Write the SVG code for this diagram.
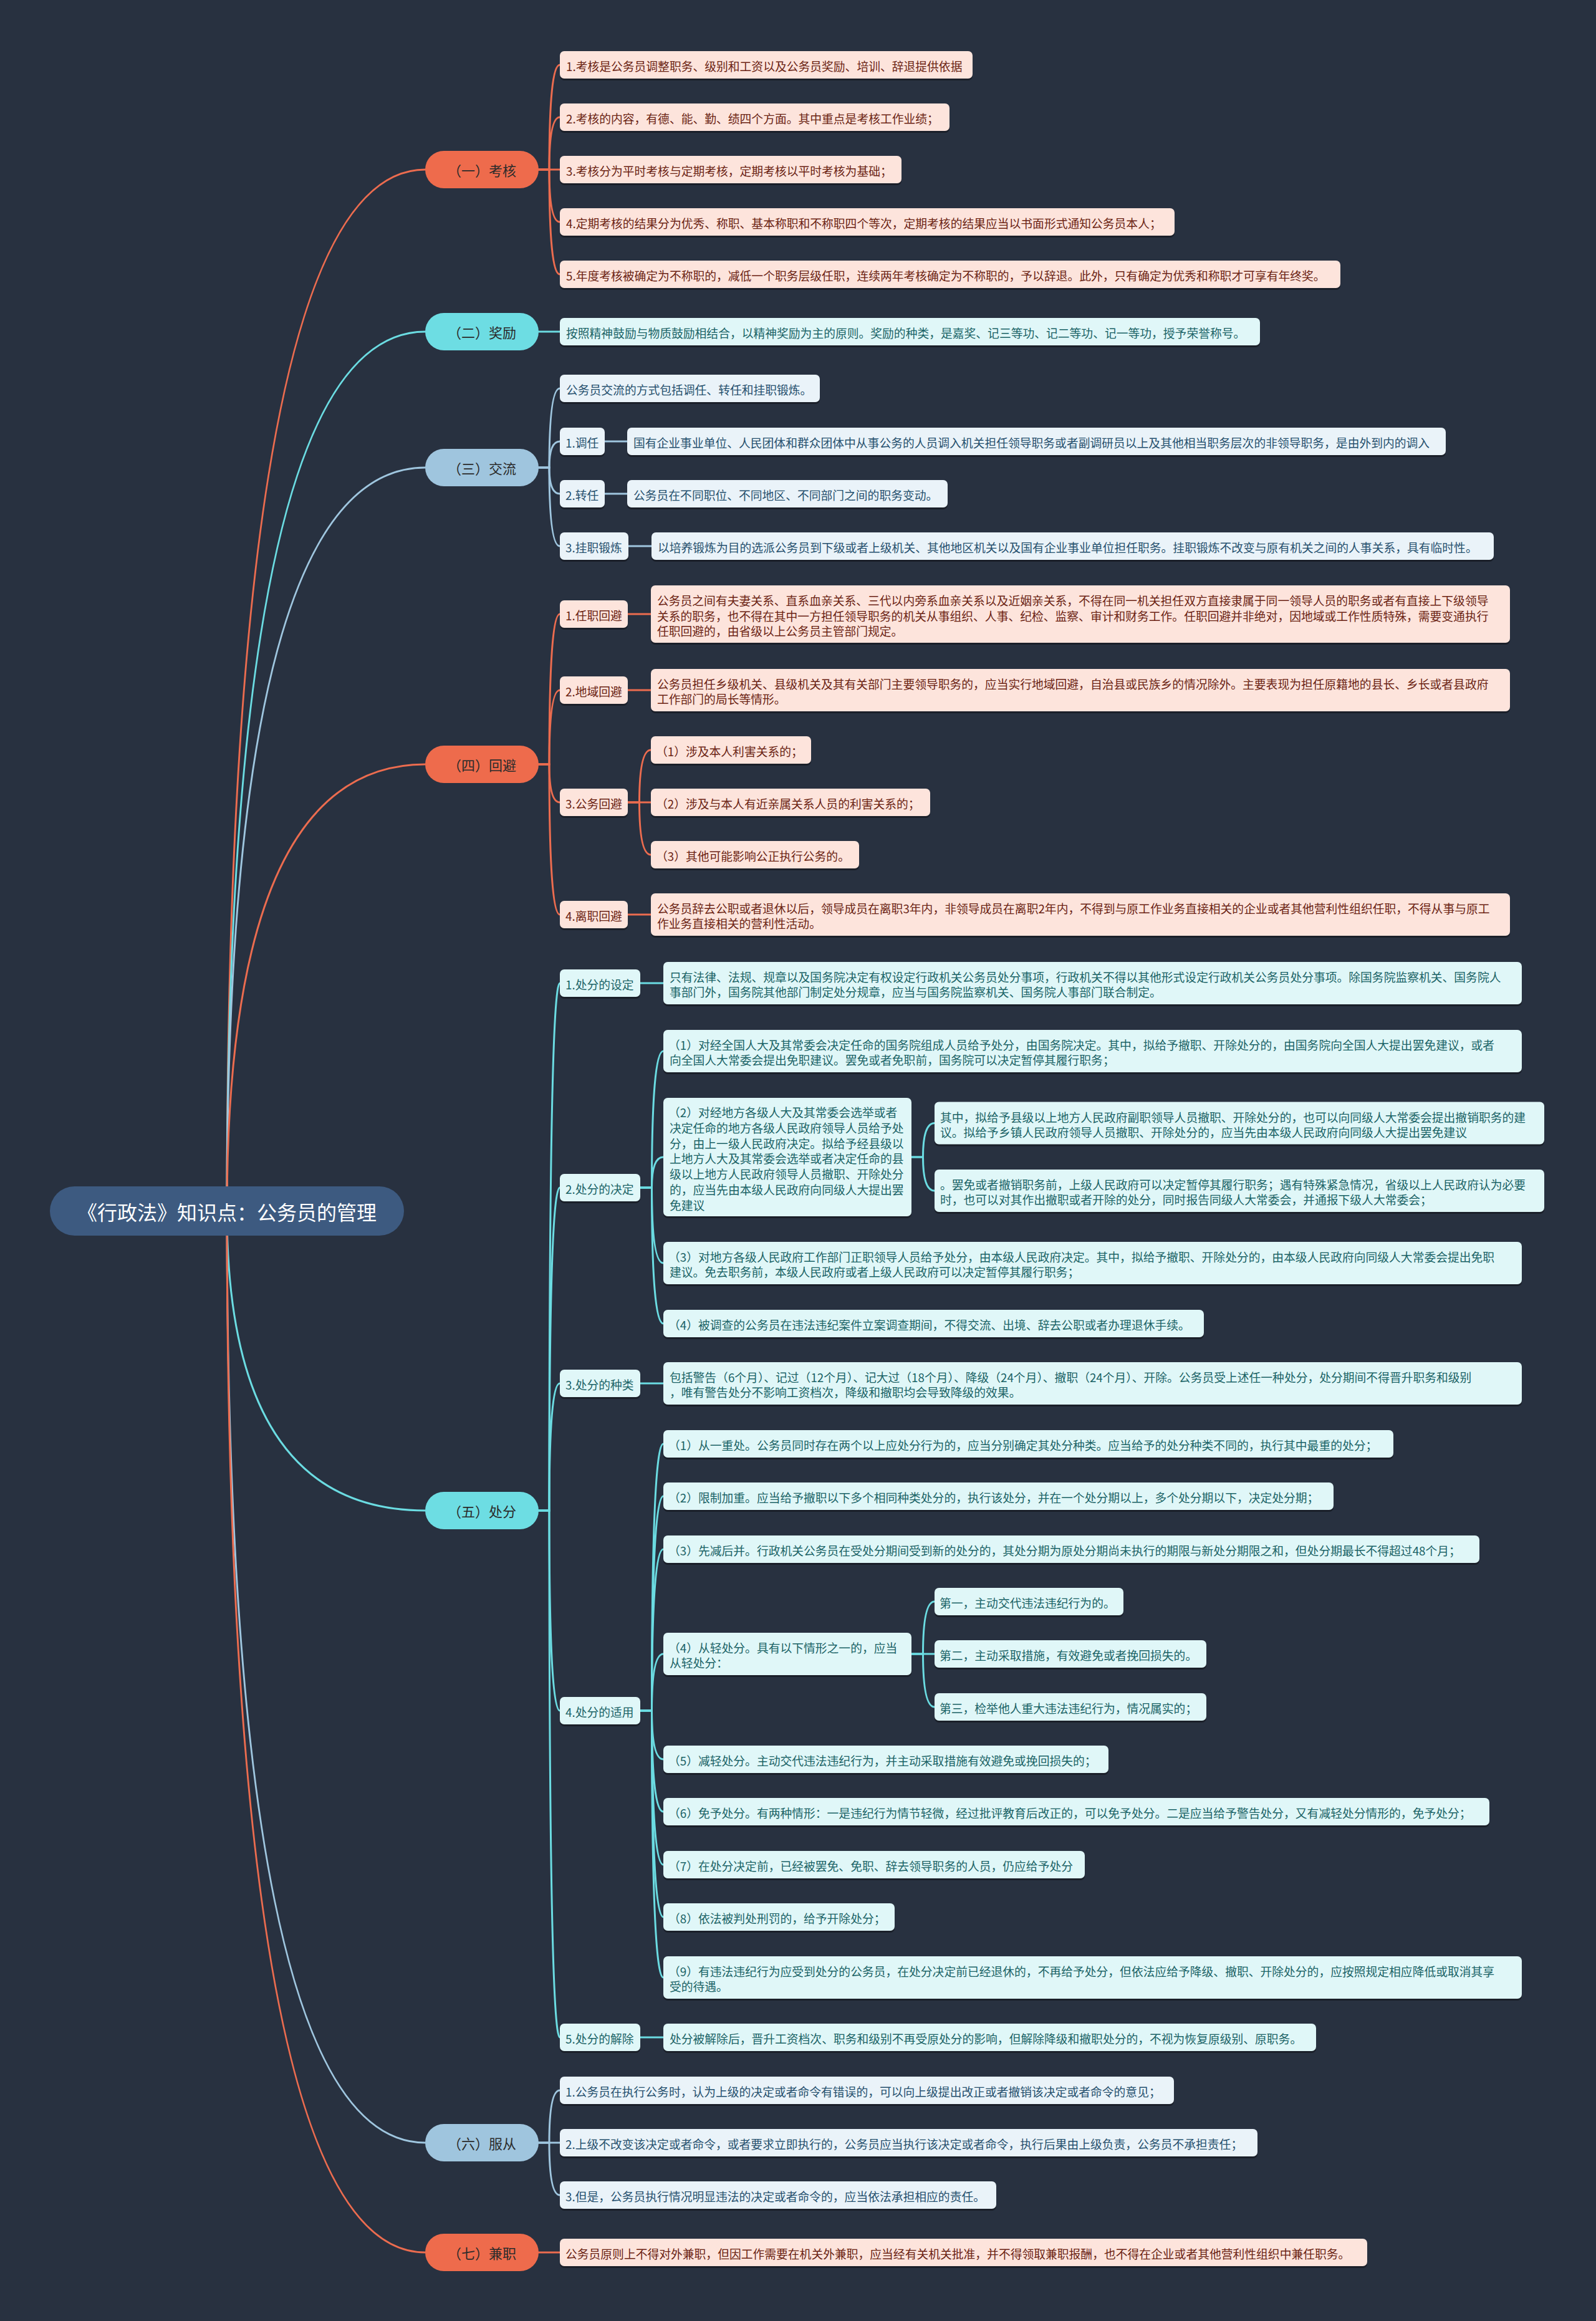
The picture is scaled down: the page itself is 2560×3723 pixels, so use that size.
<svg xmlns="http://www.w3.org/2000/svg" width="2560" height="3723" viewBox="0 0 2560 3723">
<defs>
<style>
.bg{fill:#283140}
.sh{fill:#1a1f29}
.fo{fill:#fde4dc}
.fc{fill:#e0f7f8}
.fb{fill:#eaf3f9}
.t{font-family:"Noto Sans CJK SC","Liberation Sans",sans-serif;font-size:18.8px;dominant-baseline:central}
.to{fill:#6b2313}
.tc{fill:#1a6366}
.tb{fill:#26506e}
.ln{fill:none;stroke-width:3;stroke-linecap:round}
.lo{stroke:#ec6c4f}
.lc{stroke:#6bdce2}
.lb{stroke:#9fc6df}
.po{fill:#ee6b4c}
.pc{fill:#6ddde3}
.pb{fill:#9fc5de}
.pt{font-family:"Noto Sans CJK SC","Liberation Sans",sans-serif;font-size:22px;fill:#2b2b2b;text-anchor:middle;dominant-baseline:central}
.rt{font-family:"Noto Sans CJK SC","Liberation Sans",sans-serif;font-size:32px;fill:#ffffff;text-anchor:middle;dominant-baseline:central}
</style>
</defs>
<rect class="bg" x="0" y="0" width="2560" height="3723"/>

<g id="connectors">
<path class="ln lo" d="M364,1942 Q364,272 682,272"/>
<path class="ln lc" d="M364,1942 Q364,532 682,532"/>
<path class="ln lb" d="M364,1942 Q364,750 682,750"/>
<path class="ln lo" d="M364,1942 Q364,1226 682,1226"/>
<path class="ln lc" d="M364,1942 Q364,2423 682,2423"/>
<path class="ln lb" d="M364,1942 Q364,3437 682,3437"/>
<path class="ln lo" d="M364,1942 Q364,3613 682,3613"/>

<path class="ln lo" d="M864,272 H881 Q881,104 898,104"/>
<path class="ln lo" d="M864,272 H881 Q881,188 898,188"/>
<path class="ln lo" d="M864,272 H898"/>
<path class="ln lo" d="M864,272 H881 Q881,356 898,356"/>
<path class="ln lo" d="M864,272 H881 Q881,440 898,440"/>

<path class="ln lc" d="M864,532 H898"/>

<path class="ln lb" d="M864,750 H881 Q881,623 898,623"/>
<path class="ln lb" d="M864,750 H881 Q881,708 898,708"/>
<path class="ln lb" d="M864,750 H881 Q881,792 898,792"/>
<path class="ln lb" d="M864,750 H881 Q881,876 898,876"/>
<path class="ln lb" d="M970,708 H1006"/>
<path class="ln lb" d="M970,792 H1006"/>
<path class="ln lb" d="M1008,876 H1045"/>

<path class="ln lo" d="M864,1226 H881 Q881,985 898,985"/>
<path class="ln lo" d="M864,1226 H881 Q881,1107 898,1107"/>
<path class="ln lo" d="M864,1226 H881 Q881,1287 898,1287"/>
<path class="ln lo" d="M864,1226 H881 Q881,1467 898,1467"/>
<path class="ln lo" d="M1007,985 H1044"/>
<path class="ln lo" d="M1007,1107 H1044"/>
<path class="ln lo" d="M1007,1287 H1025.5 Q1025.5,1203 1044,1203"/>
<path class="ln lo" d="M1007,1287 H1044"/>
<path class="ln lo" d="M1007,1287 H1025.5 Q1025.5,1371 1044,1371"/>
<path class="ln lo" d="M1007,1467 H1044"/>

<path class="ln lc" d="M864,2423 H881 Q881,1577 898,1577"/>
<path class="ln lc" d="M864,2423 H881 Q881,1905 898,1905"/>
<path class="ln lc" d="M864,2423 H881 Q881,2219 898,2219"/>
<path class="ln lc" d="M864,2423 H881 Q881,2744 898,2744"/>
<path class="ln lc" d="M864,2423 H881 Q881,3268 898,3268"/>
<path class="ln lc" d="M1027,1577 H1064"/>
<path class="ln lc" d="M1027,1905 H1045.5 Q1045.5,1686 1064,1686"/>
<path class="ln lc" d="M1027,1905 H1045.5 Q1045.5,1856 1064,1856"/>
<path class="ln lc" d="M1027,1905 H1045.5 Q1045.5,2026 1064,2026"/>
<path class="ln lc" d="M1027,1905 H1045.5 Q1045.5,2123 1064,2123"/>
<path class="ln lc" d="M1462,1856 H1480.5 Q1480.5,1801.5 1499,1801.5"/>
<path class="ln lc" d="M1462,1856 H1480.5 Q1480.5,1910 1499,1910"/>
<path class="ln lc" d="M1027,2219 H1064"/>
<path class="ln lc" d="M1027,2744 H1045.5 Q1045.5,2316 1064,2316"/>
<path class="ln lc" d="M1027,2744 H1045.5 Q1045.5,2400 1064,2400"/>
<path class="ln lc" d="M1027,2744 H1045.5 Q1045.5,2485 1064,2485"/>
<path class="ln lc" d="M1027,2744 H1045.5 Q1045.5,2653 1064,2653"/>
<path class="ln lc" d="M1027,2744 H1045.5 Q1045.5,2822 1064,2822"/>
<path class="ln lc" d="M1027,2744 H1045.5 Q1045.5,2906 1064,2906"/>
<path class="ln lc" d="M1027,2744 H1045.5 Q1045.5,2991 1064,2991"/>
<path class="ln lc" d="M1027,2744 H1045.5 Q1045.5,3075 1064,3075"/>
<path class="ln lc" d="M1027,2744 H1045.5 Q1045.5,3172 1064,3172"/>
<path class="ln lc" d="M1462,2653 H1480.5 Q1480.5,2569 1499,2569"/>
<path class="ln lc" d="M1462,2653 H1499"/>
<path class="ln lc" d="M1462,2653 H1480.5 Q1480.5,2738 1499,2738"/>
<path class="ln lc" d="M1027,3268 H1064"/>

<path class="ln lb" d="M864,3437 H881 Q881,3353 898,3353"/>
<path class="ln lb" d="M864,3437 H898"/>
<path class="ln lb" d="M864,3437 H881 Q881,3521 898,3521"/>

<path class="ln lo" d="M864,3613 H898"/>
</g>

<g id="root">
<rect x="80" y="1903" width="568" height="79" rx="39.5" fill="#3d5a80"/>
<text class="rt" x="364" y="1943">《行政法》知识点：公务员的管理</text>
</g>

<g id="b1">
<rect class="po" x="682" y="242" width="182" height="60" rx="30"/>
<text class="pt" x="773" y="272">（一）考核</text>
</g>
<g id="b2">
<rect class="pc" x="682" y="502" width="182" height="60" rx="30"/>
<text class="pt" x="773" y="532">（二）奖励</text>
</g>
<g id="b3">
<rect class="pb" x="682" y="720" width="182" height="60" rx="30"/>
<text class="pt" x="773" y="750">（三）交流</text>
</g>
<g id="b4">
<rect class="po" x="682" y="1196" width="182" height="60" rx="30"/>
<text class="pt" x="773" y="1226">（四）回避</text>
</g>
<g id="b5">
<rect class="pc" x="682" y="2393" width="182" height="60" rx="30"/>
<text class="pt" x="773" y="2423">（五）处分</text>
</g>
<g id="b6">
<rect class="pb" x="682" y="3407" width="182" height="60" rx="30"/>
<text class="pt" x="773" y="3437">（六）服从</text>
</g>
<g id="b7">
<rect class="po" x="682" y="3583" width="182" height="60" rx="30"/>
<text class="pt" x="773" y="3613">（七）兼职</text>
</g>

<!-- 考核 -->
<g id="k1"><rect class="sh" x="898" y="85" width="662" height="44" rx="7"/><rect class="fo" x="898" y="82" width="662" height="44" rx="7"/><text class="t to" x="908" y="105">1.考核是公务员调整职务、级别和工资以及公务员奖励、培训、辞退提供依据</text></g>
<g id="k2"><rect class="sh" x="898" y="169" width="625" height="44" rx="7"/><rect class="fo" x="898" y="166" width="625" height="44" rx="7"/><text class="t to" x="908" y="189">2.考核的内容，有德、能、勤、绩四个方面。其中重点是考核工作业绩；</text></g>
<g id="k3"><rect class="sh" x="898" y="253" width="548" height="44" rx="7"/><rect class="fo" x="898" y="250" width="548" height="44" rx="7"/><text class="t to" x="908" y="273">3.考核分为平时考核与定期考核，定期考核以平时考核为基础；</text></g>
<g id="k4"><rect class="sh" x="898" y="337" width="986" height="44" rx="7"/><rect class="fo" x="898" y="334" width="986" height="44" rx="7"/><text class="t to" x="908" y="357">4.定期考核的结果分为优秀、称职、基本称职和不称职四个等次，定期考核的结果应当以书面形式通知公务员本人；</text></g>
<g id="k5"><rect class="sh" x="898" y="421" width="1252" height="44" rx="7"/><rect class="fo" x="898" y="418" width="1252" height="44" rx="7"/><text class="t to" x="908" y="441">5.年度考核被确定为不称职的，减低一个职务层级任职，连续两年考核确定为不称职的，予以辞退。此外，只有确定为优秀和称职才可享有年终奖。</text></g>

<!-- 奖励 -->
<g id="j1"><rect class="sh" x="898" y="513" width="1123" height="44" rx="7"/><rect class="fc" x="898" y="510" width="1123" height="44" rx="7"/><text class="t tc" x="908" y="533">按照精神鼓励与物质鼓励相结合，以精神奖励为主的原则。奖励的种类，是嘉奖、记三等功、记二等功、记一等功，授予荣誉称号。</text></g>

<!-- 交流 -->
<g id="x0"><rect class="sh" x="898" y="604" width="417" height="44" rx="7"/><rect class="fb" x="898" y="601" width="417" height="44" rx="7"/><text class="t tb" x="908" y="624">公务员交流的方式包括调任、转任和挂职锻炼。</text></g>
<g id="x1"><rect class="sh" x="898" y="689" width="72" height="44" rx="7"/><rect class="fb" x="898" y="686" width="72" height="44" rx="7"/><text class="t tb" x="907" y="709">1.调任</text></g>
<g id="x1a"><rect class="sh" x="1006" y="689" width="1313" height="44" rx="7"/><rect class="fb" x="1006" y="686" width="1313" height="44" rx="7"/><text class="t tb" x="1016" y="709">国有企业事业单位、人民团体和群众团体中从事公务的人员调入机关担任领导职务或者副调研员以上及其他相当职务层次的非领导职务，是由外到内的调入</text></g>
<g id="x2"><rect class="sh" x="898" y="773" width="72" height="44" rx="7"/><rect class="fb" x="898" y="770" width="72" height="44" rx="7"/><text class="t tb" x="907" y="793">2.转任</text></g>
<g id="x2a"><rect class="sh" x="1006" y="773" width="514" height="44" rx="7"/><rect class="fb" x="1006" y="770" width="514" height="44" rx="7"/><text class="t tb" x="1016" y="793">公务员在不同职位、不同地区、不同部门之间的职务变动。</text></g>
<g id="x3"><rect class="sh" x="898" y="857" width="110" height="44" rx="7"/><rect class="fb" x="898" y="854" width="110" height="44" rx="7"/><text class="t tb" x="907" y="877">3.挂职锻炼</text></g>
<g id="x3a"><rect class="sh" x="1045" y="857" width="1351" height="44" rx="7"/><rect class="fb" x="1045" y="854" width="1351" height="44" rx="7"/><text class="t tb" x="1055" y="877">以培养锻炼为目的选派公务员到下级或者上级机关、其他地区机关以及国有企业事业单位担任职务。挂职锻炼不改变与原有机关之间的人事关系，具有临时性。</text></g>

<!-- 回避 -->
<g id="h1"><rect class="sh" x="898" y="966" width="109" height="44" rx="7"/><rect class="fo" x="898" y="963" width="109" height="44" rx="7"/><text class="t to" x="907" y="986">1.任职回避</text></g>
<g id="h1a"><rect class="sh" x="1044" y="942" width="1378" height="92" rx="7"/><rect class="fo" x="1044" y="939" width="1378" height="92" rx="7"/><text class="t to"><tspan x="1054" y="962">公务员之间有夫妻关系、直系血亲关系、三代以内旁系血亲关系以及近姻亲关系，不得在同一机关担任双方直接隶属于同一领导人员的职务或者有直接上下级领导</tspan><tspan x="1054" y="986.5">关系的职务，也不得在其中一方担任领导职务的机关从事组织、人事、纪检、监察、审计和财务工作。任职回避并非绝对，因地域或工作性质特殊，需要变通执行</tspan><tspan x="1054" y="1011">任职回避的，由省级以上公务员主管部门规定。</tspan></text></g>
<g id="h2"><rect class="sh" x="898" y="1088" width="109" height="44" rx="7"/><rect class="fo" x="898" y="1085" width="109" height="44" rx="7"/><text class="t to" x="907" y="1108">2.地域回避</text></g>
<g id="h2a"><rect class="sh" x="1044" y="1076" width="1378" height="68" rx="7"/><rect class="fo" x="1044" y="1073" width="1378" height="68" rx="7"/><text class="t to"><tspan x="1054" y="1096">公务员担任乡级机关、县级机关及其有关部门主要领导职务的，应当实行地域回避，自治县或民族乡的情况除外。主要表现为担任原籍地的县长、乡长或者县政府</tspan><tspan x="1054" y="1120">工作部门的局长等情形。</tspan></text></g>
<g id="h3"><rect class="sh" x="898" y="1268" width="109" height="44" rx="7"/><rect class="fo" x="898" y="1265" width="109" height="44" rx="7"/><text class="t to" x="907" y="1288">3.公务回避</text></g>
<g id="h3a"><rect class="sh" x="1044" y="1184" width="257" height="44" rx="7"/><rect class="fo" x="1044" y="1181" width="257" height="44" rx="7"/><text class="t to" x="1052" y="1204">（1）涉及本人利害关系的；</text></g>
<g id="h3b"><rect class="sh" x="1044" y="1268" width="448" height="44" rx="7"/><rect class="fo" x="1044" y="1265" width="448" height="44" rx="7"/><text class="t to" x="1052" y="1288">（2）涉及与本人有近亲属关系人员的利害关系的；</text></g>
<g id="h3c"><rect class="sh" x="1044" y="1352" width="334" height="44" rx="7"/><rect class="fo" x="1044" y="1349" width="334" height="44" rx="7"/><text class="t to" x="1052" y="1372">（3）其他可能影响公正执行公务的。</text></g>
<g id="h4"><rect class="sh" x="898" y="1448" width="109" height="44" rx="7"/><rect class="fo" x="898" y="1445" width="109" height="44" rx="7"/><text class="t to" x="907" y="1468">4.离职回避</text></g>
<g id="h4a"><rect class="sh" x="1044" y="1436" width="1378" height="68" rx="7"/><rect class="fo" x="1044" y="1433" width="1378" height="68" rx="7"/><text class="t to"><tspan x="1054" y="1456">公务员辞去公职或者退休以后，领导成员在离职3年内，非领导成员在离职2年内，不得到与原工作业务直接相关的企业或者其他营利性组织任职，不得从事与原工</tspan><tspan x="1054" y="1480">作业务直接相关的营利性活动。</tspan></text></g>

<!-- 处分 -->
<g id="p1"><rect class="sh" x="898" y="1558" width="129" height="44" rx="7"/><rect class="fc" x="898" y="1555" width="129" height="44" rx="7"/><text class="t tc" x="907" y="1578">1.处分的设定</text></g>
<g id="p1a"><rect class="sh" x="1064" y="1546" width="1377" height="68" rx="7"/><rect class="fc" x="1064" y="1543" width="1377" height="68" rx="7"/><text class="t tc"><tspan x="1074" y="1566">只有法律、法规、规章以及国务院决定有权设定行政机关公务员处分事项，行政机关不得以其他形式设定行政机关公务员处分事项。除国务院监察机关、国务院人</tspan><tspan x="1074" y="1590">事部门外，国务院其他部门制定处分规章，应当与国务院监察机关、国务院人事部门联合制定。</tspan></text></g>

<g id="p2"><rect class="sh" x="898" y="1886" width="129" height="44" rx="7"/><rect class="fc" x="898" y="1883" width="129" height="44" rx="7"/><text class="t tc" x="907" y="1906">2.处分的决定</text></g>
<g id="p2a"><rect class="sh" x="1064" y="1655" width="1377" height="68" rx="7"/><rect class="fc" x="1064" y="1652" width="1377" height="68" rx="7"/><text class="t tc"><tspan x="1072" y="1675">（1）对经全国人大及其常委会决定任命的国务院组成人员给予处分，由国务院决定。其中，拟给予撤职、开除处分的，由国务院向全国人大提出罢免建议，或者</tspan><tspan x="1074" y="1699">向全国人大常委会提出免职建议。罢免或者免职前，国务院可以决定暂停其履行职务；</tspan></text></g>
<g id="p2b"><rect class="sh" x="1064" y="1764" width="398" height="190" rx="7"/><rect class="fc" x="1064" y="1761" width="398" height="190" rx="7"/><text class="t tc"><tspan x="1072" y="1783">（2）对经地方各级人大及其常委会选举或者</tspan><tspan x="1074" y="1807.8">决定任命的地方各级人民政府领导人员给予处</tspan><tspan x="1074" y="1832.6">分，由上一级人民政府决定。拟给予经县级以</tspan><tspan x="1074" y="1857.4">上地方人大及其常委会选举或者决定任命的县</tspan><tspan x="1074" y="1882.2">级以上地方人民政府领导人员撤职、开除处分</tspan><tspan x="1074" y="1907">的，应当先由本级人民政府向同级人大提出罢</tspan><tspan x="1074" y="1931.8">免建议</tspan></text></g>
<g id="p2b1"><rect class="sh" x="1499" y="1770.5" width="978" height="68" rx="7"/><rect class="fc" x="1499" y="1767.5" width="978" height="68" rx="7"/><text class="t tc"><tspan x="1508" y="1790.5">其中，拟给予县级以上地方人民政府副职领导人员撤职、开除处分的，也可以向同级人大常委会提出撤销职务的建</tspan><tspan x="1508" y="1814.5">议。拟给予乡镇人民政府领导人员撤职、开除处分的，应当先由本级人民政府向同级人大提出罢免建议</tspan></text></g>
<g id="p2b2"><rect class="sh" x="1499" y="1879" width="978" height="68" rx="7"/><rect class="fc" x="1499" y="1876" width="978" height="68" rx="7"/><text class="t tc"><tspan x="1508" y="1899">。罢免或者撤销职务前，上级人民政府可以决定暂停其履行职务；遇有特殊紧急情况，省级以上人民政府认为必要</tspan><tspan x="1508" y="1923">时，也可以对其作出撤职或者开除的处分，同时报告同级人大常委会，并通报下级人大常委会；</tspan></text></g>
<g id="p2c"><rect class="sh" x="1064" y="1995" width="1377" height="68" rx="7"/><rect class="fc" x="1064" y="1992" width="1377" height="68" rx="7"/><text class="t tc"><tspan x="1072" y="2015">（3）对地方各级人民政府工作部门正职领导人员给予处分，由本级人民政府决定。其中，拟给予撤职、开除处分的，由本级人民政府向同级人大常委会提出免职</tspan><tspan x="1074" y="2039">建议。免去职务前，本级人民政府或者上级人民政府可以决定暂停其履行职务；</tspan></text></g>
<g id="p2d"><rect class="sh" x="1064" y="2104" width="867" height="44" rx="7"/><rect class="fc" x="1064" y="2101" width="867" height="44" rx="7"/><text class="t tc" x="1072" y="2124">（4）被调查的公务员在违法违纪案件立案调查期间，不得交流、出境、辞去公职或者办理退休手续。</text></g>

<g id="p3"><rect class="sh" x="898" y="2200" width="129" height="44" rx="7"/><rect class="fc" x="898" y="2197" width="129" height="44" rx="7"/><text class="t tc" x="907" y="2220">3.处分的种类</text></g>
<g id="p3a"><rect class="sh" x="1064" y="2188" width="1377" height="68" rx="7"/><rect class="fc" x="1064" y="2185" width="1377" height="68" rx="7"/><text class="t tc"><tspan x="1074" y="2208">包括警告（6个月）、记过（12个月）、记大过（18个月）、降级（24个月）、撤职（24个月）、开除。公务员受上述任一种处分，处分期间不得晋升职务和级别</tspan><tspan x="1074" y="2232">，唯有警告处分不影响工资档次，降级和撤职均会导致降级的效果。</tspan></text></g>

<g id="p4"><rect class="sh" x="898" y="2725" width="129" height="44" rx="7"/><rect class="fc" x="898" y="2722" width="129" height="44" rx="7"/><text class="t tc" x="907" y="2745">4.处分的适用</text></g>
<g id="p4a"><rect class="sh" x="1064" y="2297" width="1171" height="44" rx="7"/><rect class="fc" x="1064" y="2294" width="1171" height="44" rx="7"/><text class="t tc" x="1072" y="2317">（1）从一重处。公务员同时存在两个以上应处分行为的，应当分别确定其处分种类。应当给予的处分种类不同的，执行其中最重的处分；</text></g>
<g id="p4b"><rect class="sh" x="1064" y="2381" width="1075" height="44" rx="7"/><rect class="fc" x="1064" y="2378" width="1075" height="44" rx="7"/><text class="t tc" x="1072" y="2401">（2）限制加重。应当给予撤职以下多个相同种类处分的，执行该处分，并在一个处分期以上，多个处分期以下，决定处分期；</text></g>
<g id="p4c"><rect class="sh" x="1064" y="2466" width="1309" height="44" rx="7"/><rect class="fc" x="1064" y="2463" width="1309" height="44" rx="7"/><text class="t tc" x="1072" y="2486">（3）先减后并。行政机关公务员在受处分期间受到新的处分的，其处分期为原处分期尚未执行的期限与新处分期限之和，但处分期最长不得超过48个月；</text></g>
<g id="p4d"><rect class="sh" x="1064" y="2622" width="398" height="68" rx="7"/><rect class="fc" x="1064" y="2619" width="398" height="68" rx="7"/><text class="t tc"><tspan x="1072" y="2642">（4）从轻处分。具有以下情形之一的，应当</tspan><tspan x="1074" y="2666">从轻处分：</tspan></text></g>
<g id="p4d1"><rect class="sh" x="1499" y="2550" width="303" height="44" rx="7"/><rect class="fc" x="1499" y="2547" width="303" height="44" rx="7"/><text class="t tc" x="1507" y="2570">第一，主动交代违法违纪行为的。</text></g>
<g id="p4d2"><rect class="sh" x="1499" y="2634" width="436" height="44" rx="7"/><rect class="fc" x="1499" y="2631" width="436" height="44" rx="7"/><text class="t tc" x="1507" y="2654">第二，主动采取措施，有效避免或者挽回损失的。</text></g>
<g id="p4d3"><rect class="sh" x="1499" y="2719" width="436" height="44" rx="7"/><rect class="fc" x="1499" y="2716" width="436" height="44" rx="7"/><text class="t tc" x="1507" y="2739">第三，检举他人重大违法违纪行为，情况属实的；</text></g>
<g id="p4e"><rect class="sh" x="1064" y="2803" width="714" height="44" rx="7"/><rect class="fc" x="1064" y="2800" width="714" height="44" rx="7"/><text class="t tc" x="1072" y="2823">（5）减轻处分。主动交代违法违纪行为，并主动采取措施有效避免或挽回损失的；</text></g>
<g id="p4f"><rect class="sh" x="1064" y="2887" width="1325" height="44" rx="7"/><rect class="fc" x="1064" y="2884" width="1325" height="44" rx="7"/><text class="t tc" x="1072" y="2907">（6）免予处分。有两种情形：一是违纪行为情节轻微，经过批评教育后改正的，可以免予处分。二是应当给予警告处分，又有减轻处分情形的，免予处分；</text></g>
<g id="p4g"><rect class="sh" x="1064" y="2972" width="676" height="44" rx="7"/><rect class="fc" x="1064" y="2969" width="676" height="44" rx="7"/><text class="t tc" x="1072" y="2992">（7）在处分决定前，已经被罢免、免职、辞去领导职务的人员，仍应给予处分</text></g>
<g id="p4h"><rect class="sh" x="1064" y="3056" width="371" height="44" rx="7"/><rect class="fc" x="1064" y="3053" width="371" height="44" rx="7"/><text class="t tc" x="1072" y="3076">（8）依法被判处刑罚的，给予开除处分；</text></g>
<g id="p4i"><rect class="sh" x="1064" y="3141" width="1377" height="68" rx="7"/><rect class="fc" x="1064" y="3138" width="1377" height="68" rx="7"/><text class="t tc"><tspan x="1072" y="3161">（9）有违法违纪行为应受到处分的公务员，在处分决定前已经退休的，不再给予处分，但依法应给予降级、撤职、开除处分的，应按照规定相应降低或取消其享</tspan><tspan x="1074" y="3185">受的待遇。</tspan></text></g>

<g id="p5"><rect class="sh" x="898" y="3249" width="129" height="44" rx="7"/><rect class="fc" x="898" y="3246" width="129" height="44" rx="7"/><text class="t tc" x="907" y="3269">5.处分的解除</text></g>
<g id="p5a"><rect class="sh" x="1064" y="3249" width="1047" height="44" rx="7"/><rect class="fc" x="1064" y="3246" width="1047" height="44" rx="7"/><text class="t tc" x="1074" y="3269">处分被解除后，晋升工资档次、职务和级别不再受原处分的影响，但解除降级和撤职处分的，不视为恢复原级别、原职务。</text></g>

<!-- 服从 -->
<g id="f1"><rect class="sh" x="898" y="3334" width="985" height="44" rx="7"/><rect class="fb" x="898" y="3331" width="985" height="44" rx="7"/><text class="t tb" x="907" y="3354">1.公务员在执行公务时，认为上级的决定或者命令有错误的，可以向上级提出改正或者撤销该决定或者命令的意见；</text></g>
<g id="f2"><rect class="sh" x="898" y="3418" width="1119" height="44" rx="7"/><rect class="fb" x="898" y="3415" width="1119" height="44" rx="7"/><text class="t tb" x="907" y="3438">2.上级不改变该决定或者命令，或者要求立即执行的，公务员应当执行该决定或者命令，执行后果由上级负责，公务员不承担责任；</text></g>
<g id="f3"><rect class="sh" x="898" y="3502" width="700" height="44" rx="7"/><rect class="fb" x="898" y="3499" width="700" height="44" rx="7"/><text class="t tb" x="907" y="3522">3.但是，公务员执行情况明显违法的决定或者命令的，应当依法承担相应的责任。</text></g>

<!-- 兼职 -->
<g id="z1"><rect class="sh" x="898" y="3594" width="1295" height="44" rx="7"/><rect class="fo" x="898" y="3591" width="1295" height="44" rx="7"/><text class="t to" x="907" y="3614">公务员原则上不得对外兼职，但因工作需要在机关外兼职，应当经有关机关批准，并不得领取兼职报酬，也不得在企业或者其他营利性组织中兼任职务。</text></g>
</svg>
